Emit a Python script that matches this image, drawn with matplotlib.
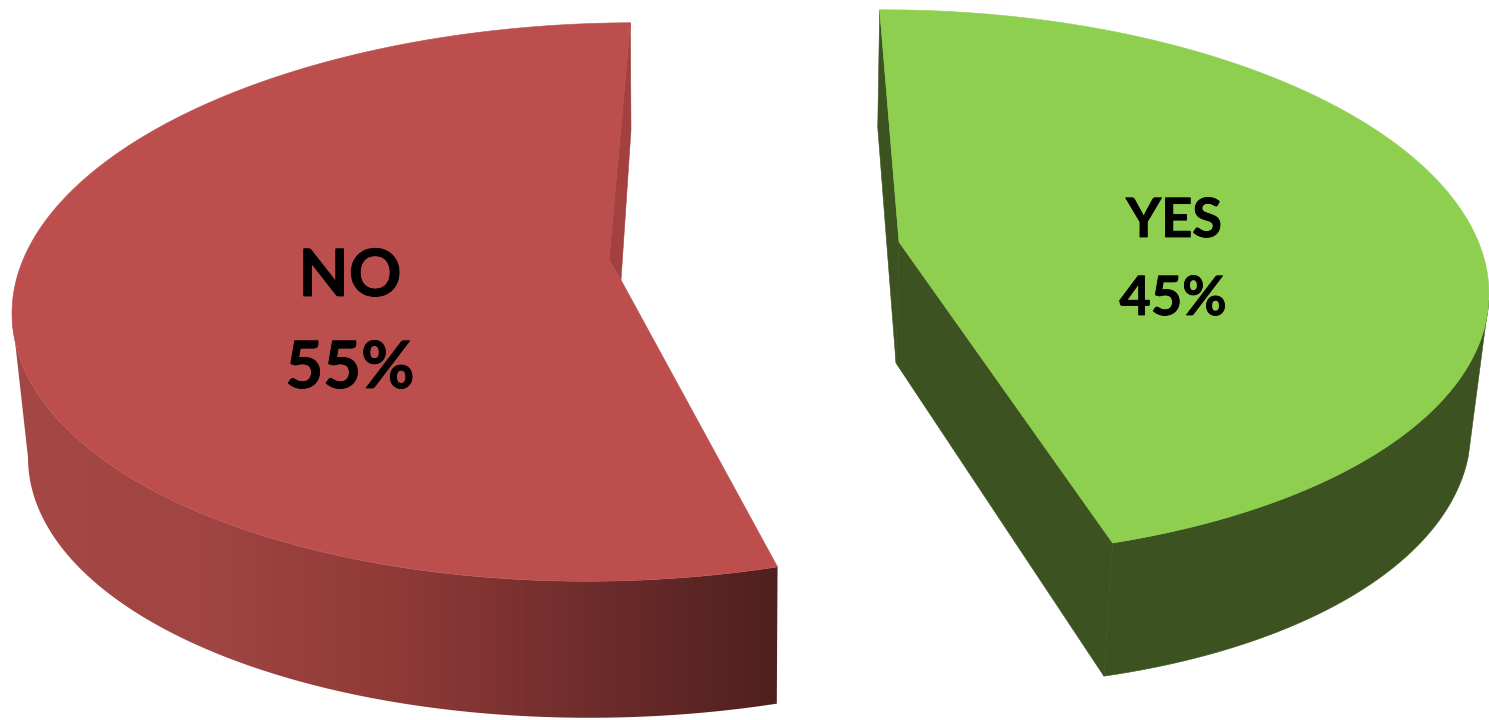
import matplotlib
matplotlib.use('Agg')
import matplotlib.pyplot as plt
import matplotlib.patheffects as pe
import numpy as np
from matplotlib.colors import LinearSegmentedColormap
from matplotlib.patches import Polygon

labels = ['NO', 'YES']
shares = [55, 45]

START_ANGLE = 88

# ellipse = (cx, cy, a, b, x shear, y shear), one for the top face and one for the base
RED_TOP = (611, 302, 599, 279, -1.5, -12)
RED_BASE = (615, 445.5, 587, 272, 0, -12)
GREEN_TOP = (907, 283.5, 580, 273.4, -47.6, -12)
GREEN_BASE = (904, 407, 565, 280, -46, 0)

RED_FACE = '#bc4f4d'
RED_CUT = '#a24140'
GREEN_FACE = '#8ecf50'
GREEN_WALL = '#3c5220'

red_wall = LinearSegmentedColormap.from_list(
    'red_wall', ['#a54745', '#a04543', '#903a38', '#6f2d2c', '#4f201f'])


def rim(ellipse, t0, t1, n=200):
    cx, cy, a, b, sx, sy = ellipse
    t = np.radians(np.linspace(t0, t1, n))
    return np.column_stack([cx + a * np.cos(t) + sx * np.sin(t),
                            cy - b * np.sin(t) + sy * np.cos(t)])


def poly(ax, pts, color):
    p = Polygon(pts, closed=True, facecolor=color, edgecolor=color, linewidth=0.4)
    ax.add_patch(p)
    return p


fig = plt.figure(figsize=(14.89, 7.2), dpi=100)
ax = fig.add_axes([0, 0, 1, 1])

sweep = 360 * shares[0] / sum(shares)
red_end = START_ANGLE + sweep

# NO slice: outer wall shaded left to right, then cut edge and top face
top = rim(RED_TOP, START_ANGLE, red_end)
wall_outline = np.vstack([rim(RED_TOP, 180, red_end), rim(RED_BASE, 180, red_end)[::-1]])
wall = Polygon(wall_outline, closed=True, facecolor='none', edgecolor='none')
ax.add_patch(wall)
gradient = np.linspace(0, 1, 256).reshape(1, -1)
im = ax.imshow(gradient, extent=(10, 778, 720, 0), aspect='auto', cmap=red_wall)
im.set_clip_path(wall)

red_inner = [(609, 260), (621, 280)]
poly(ax, [top[0], (631, 130), red_inner[1], red_inner[0]], RED_CUT)
poly(ax, np.vstack([top, [red_inner[1]], [red_inner[0]]]), RED_FACE)

# YES slice takes the rest of the circle
top = rim(GREEN_TOP, red_end - 360, START_ANGLE)
base = rim(GREEN_BASE, red_end - 360, START_ANGLE)
inner_top = (899, 242)
inner_base = (896, 363)
poly(ax, np.vstack([rim(GREEN_TOP, red_end - 360, -6),
                    rim(GREEN_BASE, red_end - 360, -10)[::-1]]), GREEN_WALL)
poly(ax, [top[-1], inner_top, inner_base, base[-1]], GREEN_WALL)
poly(ax, [top[0], inner_top, inner_base, base[0]], GREEN_WALL)
poly(ax, np.vstack([top, [inner_top]]), GREEN_FACE)

text_style = dict(family='Lato', fontweight='bold', color='black', ha='center', va='baseline',
                  path_effects=[pe.withStroke(linewidth=0.6, foreground='black')])
ax.text(350, 296, labels[0], fontsize=47, **text_style)
ax.text(350, 388, f'{shares[0]}%', fontsize=47, **text_style)
ax.text(1174, 237, labels[1], fontsize=39, **text_style)
ax.text(1173, 315, f'{shares[1]}%', fontsize=39, **text_style)

ax.set_xlim(0, 1489)
ax.set_ylim(720, 0)
ax.axis('off')

fig.savefig('out.png', dpi=100, facecolor='white')
